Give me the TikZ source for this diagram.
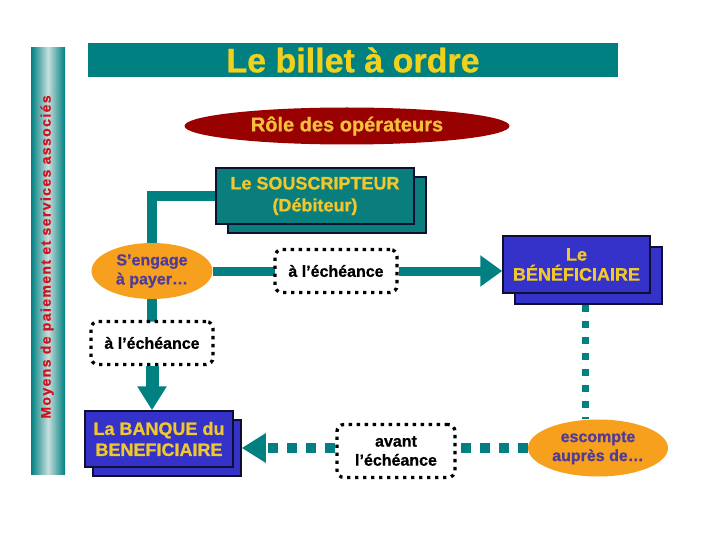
\documentclass[tikz,border=0pt]{standalone}
\usepackage{fontspec}
\setmainfont{Liberation Sans}
\usetikzlibrary{arrows.meta,shapes.geometric,shadows}
\definecolor{tealc}{RGB}{0,128,128}
\definecolor{boxteal}{RGB}{10,125,125}
\definecolor{bluec}{RGB}{52,50,200}
\definecolor{ytext}{RGB}{240,200,45}
\definecolor{titley}{RGB}{240,210,30}
\definecolor{roletext}{RGB}{245,190,60}
\definecolor{darkred}{RGB}{153,0,0}
\definecolor{orangec}{RGB}{247,160,30}
\definecolor{purplec}{RGB}{80,60,150}
\definecolor{redtext}{RGB}{205,20,30}
\definecolor{edgec}{RGB}{15,15,50}
\definecolor{barlight}{RGB}{200,222,222}
\newcommand{\heavyfont}[2]{\bfseries\fontsize{#1}{#2}\selectfont\addfontfeature{FakeBold=0.8}}
\tikzset{
  actorbox/.style={rectangle, draw=edgec, line width=1.5pt, inner sep=0pt, align=center, text=ytext},
  tealbox/.style={actorbox, fill=boxteal},
  bluebox/.style={actorbox, fill=bluec},
  orangeell/.style={ellipse, fill=orangec, inner sep=0pt, align=center, text=purplec},
  dotbox/.style={rectangle, rounded corners=7pt, draw=black, line width=3.3pt,
    dash pattern=on 3.3pt off 4.7pt, fill=white, inner sep=0pt, align=center, text=black},
  tealline/.style={draw=tealc, line width=10pt},
  hline/.style={draw=tealc, line width=9pt},
  vline/.style={draw=tealc, line width=13pt},
  dotline/.style={draw=tealc, line width=10pt, dash pattern=on 10pt off 9pt},
  vdotline/.style={draw=tealc, line width=7pt, dash pattern=on 7pt off 9pt},
}
\begin{document}
\begin{tikzpicture}[x=1pt,y=-1pt]
\useasboundingbox (0,0) rectangle (720,540);
% side bar
\shade[left color=tealc, right color=tealc, middle color=barlight] (31,48) rectangle (65,474);
\node[rotate=90, text=redtext, inner sep=0pt,
  font=\heavyfont{14}{16}\addfontfeature{LetterSpace=10}] (side) at (47,257)
  {Moyens de paiement et services associés};
% title
\node[rectangle, fill=tealc, minimum width=530pt, minimum height=34pt, inner sep=0pt,
  text=titley, font=\heavyfont{34}{36}] (title) at (353,60) {Le billet à ordre};
\node[ellipse, fill=darkred, minimum width=325pt, minimum height=37pt, inner sep=0pt,
  text=roletext, font=\heavyfont{20}{24}] (role) at (347,126) {Rôle des opérateurs};
% actors
\node[tealbox, minimum width=198pt, minimum height=56pt,
  copy shadow={shadow xshift=12pt, shadow yshift=-9pt},
  font=\heavyfont{18}{22}] (sous) at (315,196) {Le SOUSCRIPTEUR\\(Débiteur)};
\node[bluebox, minimum width=147pt, minimum height=57pt,
  copy shadow={shadow xshift=12pt, shadow yshift=-11pt},
  font=\heavyfont{18}{20}] (benef) at (576.5,264.5) {Le\\BÉNÉFICIAIRE};
\node[bluebox, minimum width=148pt, minimum height=56pt,
  copy shadow={shadow xshift=8pt, shadow yshift=-9pt},
  font=\heavyfont{18}{21}] (banque) at (159,439) {La BANQUE du\\BENEFICIAIRE};
\node[orangeell, minimum width=121pt, minimum height=56pt,
  font=\heavyfont{16}{19}] (engage) at (152,271) {S’engage\\à payer…};
\node[orangeell, minimum width=140pt, minimum height=57pt,
  font=\heavyfont{16}{19}] (escompte) at (598,448) {escompte\\auprès de…};
% connectors (drawn before dotted boxes so boxes sit on top)
\coordinate (vtop) at (585,305);
\coordinate (ech2top) at (152,322);
\coordinate (ech1left) at (276,271);
\coordinate (avantright) at (455,448);
\draw[tealline] (sous.west) -| (engage.north);
\draw[tealline] (engage.south) -- (ech2top);
\draw[hline] (engage.east) -- (ech1left);
\draw[vdotline] (vtop) -- (vtop |- escompte.north);
\draw[dotline] (escompte.west) -- (avantright);
% dotted label boxes
\node[dotbox, minimum width=122pt, minimum height=43pt, font=\heavyfont{16}{19}] (ech1) at (336,271) {à l’échéance};
\node[dotbox, minimum width=122pt, minimum height=43pt, font=\heavyfont{16}{19}] (ech2) at (152,343) {à l’échéance};
\node[dotbox, minimum width=118pt, minimum height=53pt,
  font=\heavyfont{16}{19}] (avant) at (396,451) {avant\\l’échéance};
% arrows
\draw[hline, -{Triangle[length=22pt,width=30pt]}] (ech1.east) -- (ech1.east -| benef.west);
\draw[vline, -{Triangle[length=24pt,width=28pt]}] (ech2.south) -- (ech2.south |- banque.north);
\draw[dotline, -{Triangle[length=24pt,width=28pt]}] (avant.west |- escompte.west) -- ([xshift=8pt]banque.east |- escompte.west);
\end{tikzpicture}
\end{document}
